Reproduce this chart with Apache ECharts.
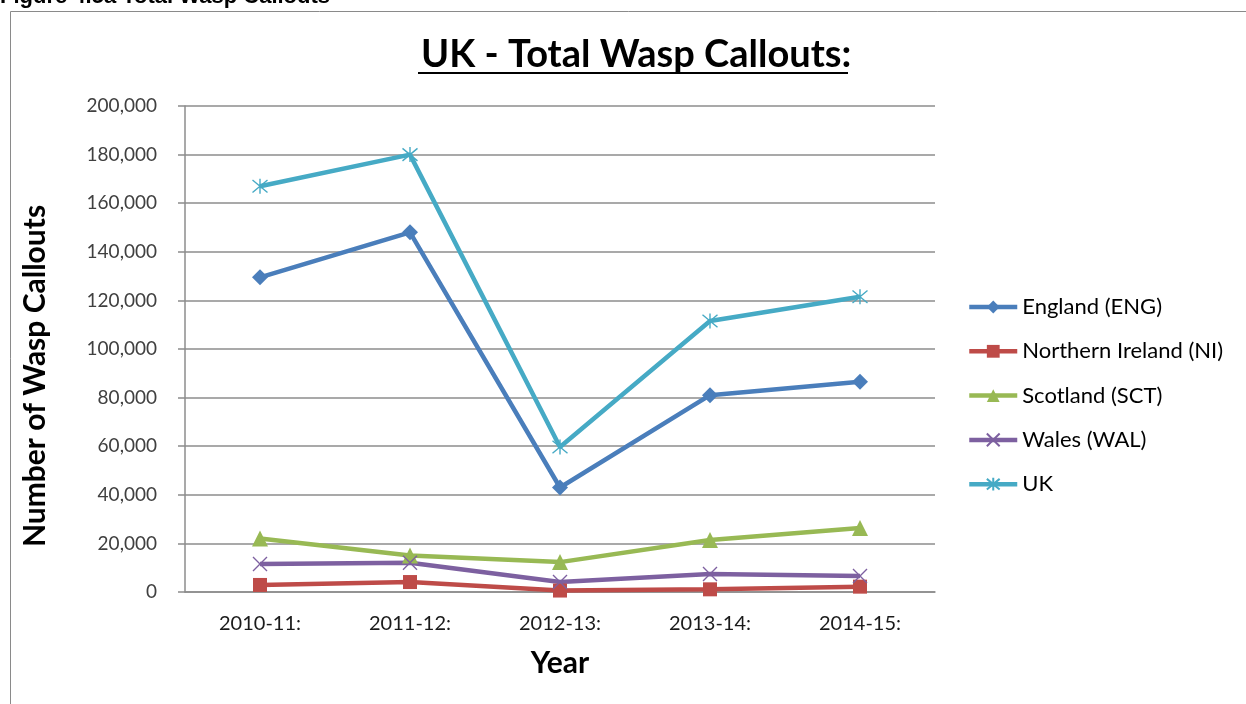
<!DOCTYPE html>
<html>
<head>
<meta charset="utf-8">
<script src="https://cdn.jsdelivr.net/npm/echarts@6/dist/echarts.min.js"></script>
<style>
  html, body { margin: 0; padding: 0; background: #fff; }
  #chart { width: 1246px; height: 704px; }
</style>
</head>
<body>
<div id="chart"></div>
<script>
const categories = ['2010-11:', '2011-12:', '2012-13:', '2013-14:', '2014-15:'];
const england = [129500, 148000, 43000, 81000, 86500];
const northernIreland = [2900, 4100, 600, 1100, 2200];
const scotland = [22000, 15000, 12300, 21400, 26300];
const wales = [11500, 12000, 4100, 7400, 6600];
const uk = [167000, 180000, 59700, 111500, 121500];
const yTicks = { min: 0, max: 200000, interval: 20000 };

const FONT = 'Lato, "Open Sans", sans-serif';
const xPath = 'path://M0,0L10,10M10,0L0,10';
const starPath = 'path://M0,0L10,10M10,0L0,10M5,-1L5,11';

function mk(name, data, color, symbol, size, stroke) {
  return {
    name: name, type: 'line', data: data,
    symbol: symbol, symbolSize: size,
    showAllSymbol: true,
    lineStyle: { color: color, width: 4.5 },
    itemStyle: stroke ? { color: color, borderColor: color, borderWidth: 1.4 } : { color: color },
    emphasis: { disabled: true },
    z: 3
  };
}

const chart = echarts.init(document.getElementById('chart'), null, { renderer: 'canvas' });
chart.setOption({
  animation: false,
  backgroundColor: '#fff',
  textStyle: { fontFamily: FONT },
  graphic: [
    { type: 'rect', shape: { x: 10.5, y: 11.5, width: 1400, height: 900 },
      style: { fill: 'none', stroke: '#8a8a8a', lineWidth: 1 }, silent: true, z: 0 },
    { type: 'text', left: 0, top: -14,
      style: { text: 'Figure 4.5a Total Wasp Callouts', font: 'bold 22px "Liberation Sans", Arial, sans-serif', fill: '#000' }, z: 1 },
    { type: 'line', shape: { x1: 418, y1: 73, x2: 848, y2: 73 },
      style: { stroke: '#000', lineWidth: 2 }, silent: true, z: 1 }
  ],
  title: {
    text: 'UK - Total Wasp Callouts:',
    left: 416, top: 31,
    textStyle: { fontFamily: FONT, fontWeight: 'bold', fontSize: 38, color: '#000' }
  },
  legend: {
    orient: 'vertical', left: 962, top: 291,
    itemWidth: 48, itemHeight: 16, itemGap: 22.3,
    lineStyle: { width: 4.5 },
    textStyle: { fontFamily: FONT, fontSize: 22, color: '#000', lineHeight: 22 },
    data: ['England (ENG)', 'Northern Ireland (NI)', 'Scotland (SCT)', 'Wales (WAL)', 'UK']
  },
  grid: { left: 185, top: 106, right: 311, bottom: 112, containLabel: false },
  xAxis: {
    type: 'category', data: categories, boundaryGap: true,
    name: 'Year', nameLocation: 'middle', nameGap: 56,
    nameTextStyle: { fontFamily: FONT, fontWeight: 'bold', fontSize: 30, color: '#000' },
    axisLine: { lineStyle: { color: '#8c8c8c', width: 1.5 } },
    axisTick: { show: false },
    axisLabel: { fontFamily: FONT, fontSize: 20, color: '#1a1a1a', margin: 22 }
  },
  yAxis: {
    type: 'value', min: yTicks.min, max: yTicks.max, interval: yTicks.interval,
    name: 'Number of Wasp Callouts', nameLocation: 'middle', nameGap: 135,
    nameTextStyle: { fontFamily: FONT, fontWeight: 'bold', fontSize: 30, color: '#000', padding: [0, 54, 0, 0] },
    axisLine: { show: true, lineStyle: { color: '#8c8c8c', width: 1.5 } },
    axisTick: { show: true, length: 7, lineStyle: { color: '#8c8c8c', width: 1.5 } },
    splitLine: { lineStyle: { color: '#8c8c8c', width: 1.5 } },
    axisLabel: {
      fontFamily: FONT, fontSize: 19, color: '#404040', margin: 28,
      formatter: function (v) { return v.toLocaleString('en-US'); }
    }
  },
  series: [
    mk('England (ENG)', england, '#4A7EBB', 'diamond', 16, false),
    mk('Northern Ireland (NI)', northernIreland, '#BE4B48', 'rect', 14, false),
    mk('Scotland (SCT)', scotland, '#98B954', 'triangle', 16, false),
    mk('Wales (WAL)', wales, '#7D60A0', xPath, 14, true),
    mk('UK', uk, '#46AAC5', starPath, 15, true)
  ]
});
</script>
</body>
</html>
